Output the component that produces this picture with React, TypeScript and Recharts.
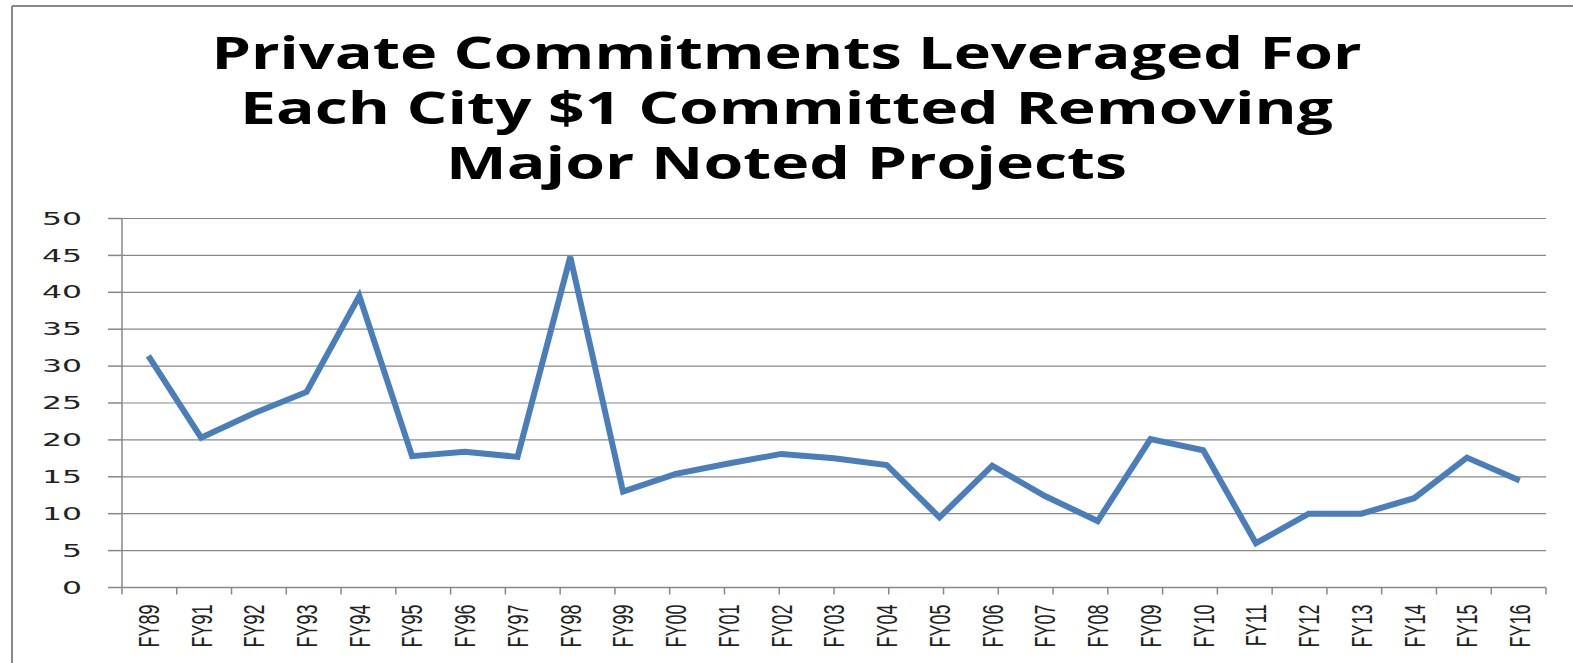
import { CartesianGrid, Line, LineChart, XAxis, YAxis } from "recharts";

const years = [
  "FY89", "FY91", "FY92", "FY93", "FY94", "FY95", "FY96", "FY97", "FY98",
  "FY99", "FY00", "FY01", "FY02", "FY03", "FY04", "FY05", "FY06", "FY07",
  "FY08", "FY09", "FY10", "FY11", "FY12", "FY13", "FY14", "FY15", "FY16",
];

const leverage = [
  31.4, 20.3, 23.6, 26.5, 39.5, 17.8, 18.4, 17.7, 44.8,
  13.0, 15.4, 16.8, 18.1, 17.5, 16.6, 9.5, 16.5, 12.4,
  9.0, 20.1, 18.6, 6.0, 10.0, 10.0, 12.1, 17.6, 14.5,
];

const yTicks = [0, 5, 10, 15, 20, 25, 30, 35, 40, 45, 50];

const titleLines = [
  "Private Commitments Leveraged For",
  "Each City $1 Committed Removing",
  "Major Noted Projects",
];

const W = 1573;
const H = 663;
const GRAY = "#878787";

// tick marks sit between categories, like Excel
const edgeTicks = years.map((_, i) => i).concat(years.length);

const data = years.map((year, i) => ({ year, value: leverage[i] }));

function YTick(props: any) {
  const { x, y, payload } = props;
  return (
    <g transform={`translate(${x},${y}) scale(1.85,1)`}>
      <text
        textAnchor="end"
        dy="0.36em"
        fontSize={17}
        fontFamily="DejaVu Sans"
        fill="#222"
      >
        {payload.value}
      </text>
    </g>
  );
}

function XTick(props: any) {
  const { x, y, payload } = props;
  return (
    <g transform={`translate(${x},${y}) scale(1.65,1) rotate(-90)`}>
      <text
        textAnchor="end"
        dy="0.35em"
        fontSize={18}
        fontFamily="Liberation Sans"
        fill="#222"
      >
        {payload.value}
      </text>
    </g>
  );
}

const NoLabel = () => <g />;

export default function App() {
  const titleY = [69, 124, 179];
  const titleLen = [1150, 1093, 681];

  return (
    <div
      style={{
        position: "absolute",
        left: 0,
        top: 0,
        width: W,
        height: H,
        background: "#fff",
        overflow: "hidden",
      }}
    >
      {/* both x axes are nearly flat so they share the same baseline */}
      <LineChart
        width={W}
        height={H}
        data={data}
        margin={{ top: 218.5, right: 27, bottom: 75.48, left: 0 }}
      >
        <CartesianGrid
          xAxisId="cat"
          vertical={false}
          stroke={GRAY}
          strokeWidth={1.2}
        />
        <XAxis
          xAxisId="edge"
          type="number"
          domain={[0, years.length]}
          ticks={edgeTicks}
          interval={0}
          tick={<NoLabel />}
          tickLine={{ stroke: GRAY, strokeWidth: 1.5 }}
          tickSize={7}
          height={0.01}
          stroke={GRAY}
          strokeWidth={1.5}
        />
        <XAxis
          xAxisId="cat"
          dataKey="year"
          scale="band"
          interval={0}
          axisLine={false}
          tickLine={false}
          tickSize={0}
          tickMargin={17}
          height={0.01}
          tick={<XTick />}
        />
        <YAxis
          domain={[0, 50]}
          ticks={yTicks}
          interval={0}
          width={122}
          tickSize={14}
          tickMargin={26}
          stroke={GRAY}
          strokeWidth={1.5}
          tick={<YTick />}
        />
        <Line
          xAxisId="cat"
          dataKey="value"
          stroke="#4A7EBB"
          strokeWidth={6}
          dot={false}
          isAnimationActive={false}
        />
      </LineChart>

      <svg
        width={W}
        height={H}
        style={{ position: "absolute", left: 0, top: 0, pointerEvents: "none" }}
      >
        <line x1={12} y1={6} x2={12} y2={H} stroke={GRAY} strokeWidth={2} />
        <line x1={12} y1={6} x2={W} y2={6} stroke={GRAY} strokeWidth={2} />
        {titleLines.map((t, i) => (
          <text
            key={t}
            x={W / 2}
            y={titleY[i]}
            textAnchor="middle"
            textLength={titleLen[i]}
            lengthAdjust="spacingAndGlyphs"
            fontFamily="Open Sans"
            fontWeight={700}
            fontSize={44}
            fill="#000"
          >
            {t}
          </text>
        ))}
      </svg>
    </div>
  );
}
